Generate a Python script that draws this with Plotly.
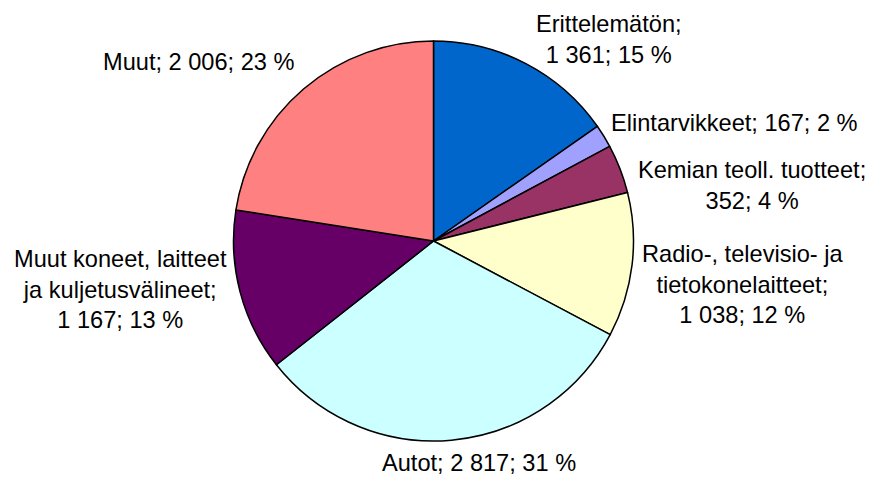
import plotly.graph_objects as go

categories = ["Erittelemätön", "Elintarvikkeet", "Kemian teoll. tuotteet",
              "Radio-, televisio- ja tietokonelaitteet", "Autot",
              "Muut koneet, laitteet ja kuljetusvälineet", "Muut"]
label_lines = ["Erittelemätön;<br>", "Elintarvikkeet; ", "Kemian teoll. tuotteet;<br>",
               "Radio-, televisio- ja<br>tietokonelaitteet;<br>", "Autot; ",
               "Muut koneet, laitteet<br>ja kuljetusvälineet;<br>", "Muut; "]
values = [1361, 167, 352, 1038, 2817, 1167, 2006]
percents = [15, 2, 4, 12, 31, 13, 23]
colors = ["#0066CC", "#A0A0FF", "#993366", "#FFFFCC", "#CCFFFF", "#660066", "#FF8080"]

# label centre positions in page pixels (layout only)
label_pos = [(609, 39), (734, 123), (752, 185), (743, 284), (479, 463), (121, 289), (199, 62)]

OFF = 8  # browser body margin
W, H = 873 - OFF, 477 - OFF

def fmt(v):
    return f"{v:,}".replace(",", " ")

def px2x(px):
    return (px - OFF) / W

def py2y(py):
    return 1 - (py - OFF) / H

fig = go.Figure(go.Pie(
    labels=categories, values=values, sort=False, direction="clockwise", rotation=0,
    marker=dict(colors=colors, line=dict(color="black", width=1.5)),
    textinfo="none", hoverinfo="skip", showlegend=False,
    domain=dict(x=[px2x(233.5), px2x(633.5)], y=[py2y(441), py2y(41)]),
))

for lab, v, p, (px, py) in zip(label_lines, values, percents, label_pos):
    fig.add_annotation(x=px2x(px), y=py2y(py), xref="paper", yref="paper",
                       text=f"{lab}{fmt(v)}; {p} %", showarrow=False,
                       xanchor="center", yanchor="middle", align="center",
                       font=dict(family="Liberation Sans, Arial, sans-serif", size=23.6, color="black"))

fig.update_layout(width=W, height=H, margin=dict(l=0, r=0, t=0, b=0),
                  paper_bgcolor="white", plot_bgcolor="white")
fig.write_html("out.html")
